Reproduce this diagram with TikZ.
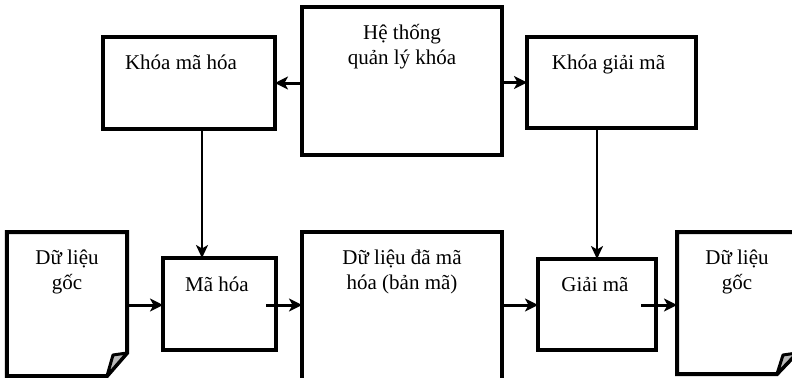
\documentclass[tikz,border=0pt]{standalone}
\usepackage{fontspec}
\setmainfont{Liberation Serif}
\usetikzlibrary{arrows.meta}
\begin{document}
\begin{tikzpicture}[x=1bp,y=-1bp,
  box/.style={draw, line width=4bp, rectangle, inner sep=0pt, outer sep=0pt},
  docarea/.style={rectangle, inner sep=0pt, outer sep=0pt},
  lbl/.style={anchor=base, align=center, inner sep=0pt, font=\fontsize{21bp}{25bp}\selectfont},
  harrow/.style={line width=3bp, -{Stealth[length=13bp,width=13bp,inset=3.5bp]}},
  varrow/.style={line width=2.2bp, -{Stealth[length=13bp,width=12bp,inset=3.5bp]}},
  docline/.style={line width=4bp, line join=miter},
  flap/.style={fill=gray!55, draw, line width=3bp, line join=round}]
\useasboundingbox (0,0) rectangle (792,377);
\clip (0,0) rectangle (792,377);
\fill[white] (0,0) rectangle (792,377);
% boxes
\node[box, minimum width=200bp, minimum height=148bp] (hts) at (402,81) {};
\node[box, minimum width=172bp, minimum height=92bp] (kmh) at (189,83) {};
\node[box, minimum width=169bp, minimum height=91bp] (kgm) at (611.5,82.5) {};
\node[box, minimum width=113bp, minimum height=92bp] (mh) at (219.5,304) {};
\node[box, minimum width=118bp, minimum height=91bp] (gm) at (597,304.5) {};
\node[box, minimum width=200bp, minimum height=188bp] (mid) at (402,326) {};
% documents
\node[docarea, minimum width=120bp, minimum height=144bp] (doca) at (67,304) {};
\node[docarea, minimum width=120bp, minimum height=142bp] (docb) at (737,303) {};
\draw[docline] (doca.north west) -- (doca.north east) -- ([yshift=23bp]doca.south east)
  -- ([xshift=-20bp]doca.south east) -- (doca.south west) -- cycle;
\draw[flap] ([yshift=23bp]doca.south east) -- ([xshift=-14bp,yshift=21bp]doca.south east)
  -- ([xshift=-20bp]doca.south east) -- cycle;
\draw[docline] (docb.north east) -- (docb.north west) -- (docb.south west)
  -- ([xshift=-20bp]docb.south east) -- ([yshift=21bp]docb.south east) -- cycle;
\draw[flap] ([yshift=21bp]docb.south east) -- ([xshift=-14bp,yshift=19bp]docb.south east)
  -- ([xshift=-20bp]docb.south east) -- cycle;
% labels
\node[lbl] (thts) at (402,64.5) {Hệ thống\\quản lý khóa};
\node[lbl] (tkmh) at (181,69.5) {Khóa mã hóa};
\node[lbl] (tkgm) at (608.5,69.5) {Khóa giải mã};
\node[lbl] (tdoca) at (67,289.5) {Dữ liệu\\gốc};
\node[lbl] (tmh) at (217,291) {Mã hóa};
\node[lbl] (tmid) at (402,289.5) {Dữ liệu đã mã\\hóa (bản mã)};
\node[lbl] (tgm) at (595,291) {Giải mã};
\node[lbl] (tdocb) at (737,289.5) {Dữ liệu\\gốc};
% connectors
\coordinate (mhout) at (266,305);
\coordinate (gmout) at (641,305);
\coordinate (kmhdown) at (202,129);
\draw[harrow] (hts.west |- kmh.east) -- (kmh.east);
\draw[harrow] (hts.east |- kgm.west) -- (kgm.west);
\draw[varrow] (kmhdown) -- (kmhdown |- mh.north);
\draw[varrow] (kgm.south -| gm.north) -- (gm.north);
\draw[harrow] (doca.east |- mhout) -- (mh.west |- mhout);
\draw[harrow] (mhout) -- (mid.west |- mhout);
\draw[harrow] (mid.east |- gmout) -- (gm.west |- gmout);
\draw[harrow] (gmout) -- (docb.west |- gmout);
\end{tikzpicture}
\end{document}
